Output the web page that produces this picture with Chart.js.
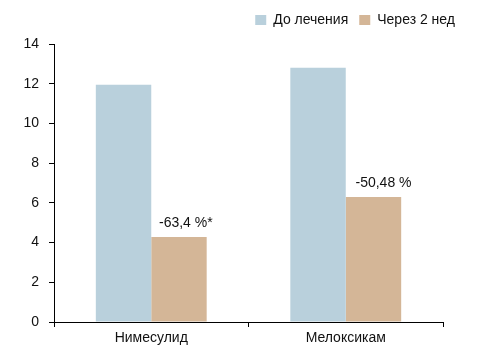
<!DOCTYPE html>
<html>
<head>
<meta charset="utf-8">
<script src="https://cdn.jsdelivr.net/npm/chart.js@4/dist/chart.umd.min.js"></script>
<style>
  html, body { margin: 0; padding: 0; background: #fff; }
  #wrap { width: 478px; height: 354px; }
</style>
</head>
<body>
<div id="wrap"><canvas id="chart" width="478" height="354"></canvas></div>
<script>
// --- data ---
const categories = ['Нимесулид', 'Мелоксикам'];
const seriesNames = ['До лечения', 'Через 2 нед'];
const beforeValues = [11.95, 12.8];
const afterValues = [4.28, 6.3];
const changeLabels = ['-63,4 %*', '-50,48 %'];
const yTicks = [0, 2, 4, 6, 8, 10, 12, 14];

const FONT = '"Liberation Sans Narrow", "Arial Narrow", "Liberation Sans", sans-serif';
const colors = { before: '#b9d0dc', after: '#d4b697', axis: '#000', text: '#111' };

// labels above the second series bars
const changeLabelPlugin = {
    id: 'changeLabels',
    afterDatasetsDraw(chart) {
        const ctx = chart.ctx;
        const meta = chart.getDatasetMeta(1);
        ctx.save();
        ctx.font = '14px ' + FONT;
        ctx.fillStyle = colors.text;
        ctx.textAlign = 'left';
        ctx.textBaseline = 'middle';
        meta.data.forEach((bar, i) => {
            ctx.fillText(changeLabels[i], bar.x - 20 + i * 2, bar.y - 14);
        });
        ctx.restore();
    }
};

new Chart(document.getElementById('chart'), {
    type: 'bar',
    data: {
        labels: categories,
        datasets: [
            { label: seriesNames[0], data: beforeValues, backgroundColor: colors.before },
            { label: seriesNames[1], data: afterValues, backgroundColor: colors.after }
        ]
    },
    options: {
        responsive: false,
        animation: false,
        layout: { padding: { top: 2, right: 12, bottom: 0, left: 0 } },
        datasets: { bar: { barPercentage: 1, categoryPercentage: 0.57 } },
        plugins: {
            legend: {
                position: 'top',
                align: 'end',
                labels: {
                    boxWidth: 11,
                    boxHeight: 10,
                    padding: 11,
                    color: colors.text,
                    font: { family: FONT, size: 14 }
                }
            },
            // empty spacer between legend and plot
            title: {
                display: true,
                text: '',
                position: 'top',
                weight: 500,
                font: { size: 1, lineHeight: 1 },
                padding: { top: 0, bottom: 6 }
            },
            tooltip: { enabled: false }
        },
        scales: {
            x: {
                offset: true,
                grid: {
                    display: true,
                    offset: true,
                    drawOnChartArea: false,
                    drawTicks: true,
                    tickLength: 5,
                    color: colors.axis
                },
                border: { display: true, color: colors.axis, width: 1 },
                ticks: { color: colors.text, font: { family: FONT, size: 14 }, padding: 3 },
                afterFit: scale => { scale.height = 32; }
            },
            y: {
                min: 0,
                max: 14,
                afterBuildTicks: scale => { scale.ticks = yTicks.map(v => ({ value: v })); },
                grid: {
                    display: true,
                    drawOnChartArea: false,
                    drawTicks: true,
                    tickLength: 5,
                    color: colors.axis
                },
                border: { display: true, color: colors.axis, width: 1 },
                ticks: { color: colors.text, font: { family: FONT, size: 14 }, padding: 10 },
                afterFit: scale => { scale.width = 54; }
            },
            yRight: {
                position: 'right',
                display: true,
                grid: { display: false },
                border: { display: false },
                ticks: { display: false },
                afterFit: scale => { scale.width = 23; }
            }
        }
    },
    plugins: [changeLabelPlugin]
});
</script>
</body>
</html>
